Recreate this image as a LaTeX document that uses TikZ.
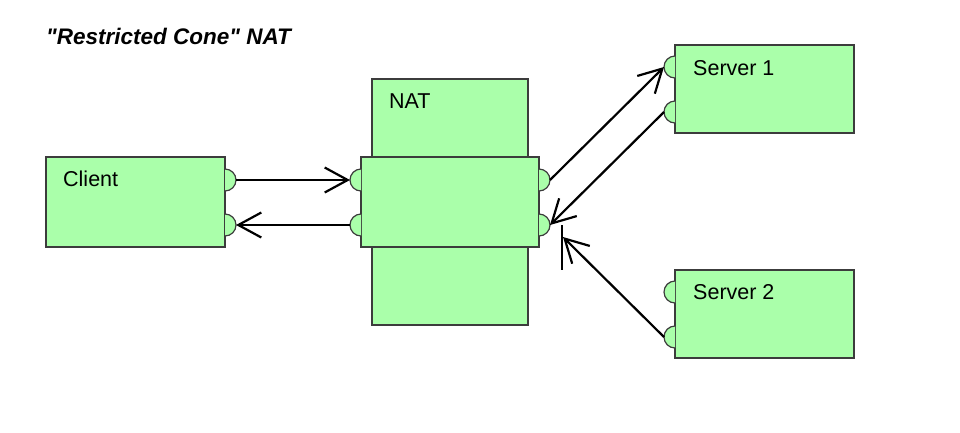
\documentclass[tikz,border=0pt]{standalone}
\usepackage{fontspec}
\setmainfont{Liberation Sans}
\newfontfamily\titlefont{Liberation Sans}
\usetikzlibrary{arrows.meta}
\definecolor{boxgreen}{RGB}{170,255,170}
\definecolor{edge}{RGB}{60,60,60}
\tikzset{
  blk/.style={draw=edge, line width=1.2pt, fill=boxgreen},
  lbl/.style={anchor=base west, inner sep=0pt, font=\fontsize{21.5}{25}\selectfont},
  conn/.style={line width=2.2pt, -{Straight Barb[length=23pt,width=25pt,line width=2.2pt]}},
}
\newcommand{\portR}[1]{\fill[boxgreen] (#1) ++(0,-11) arc[start angle=-90,end angle=90,radius=11] -- cycle;
  \draw[edge, line width=1.2pt] (#1) ++(0,-11) arc[start angle=-90,end angle=90,radius=11];}
\newcommand{\portL}[1]{\fill[boxgreen] (#1) ++(0,-11) arc[start angle=270,end angle=90,radius=11] -- cycle;
  \draw[edge, line width=1.2pt] (#1) ++(0,-11) arc[start angle=270,end angle=90,radius=11];}
\begin{document}
\begin{tikzpicture}[x=1pt,y=-1pt]
\useasboundingbox (0,0) rectangle (960,432);
\node[anchor=base west, inner sep=0pt, font=\titlefont\fontsize{22.5}{26}\selectfont\bfseries\itshape] (title) at (46,44) {"Restricted Cone" NAT};
% boxes
\draw[blk] (46,157) rectangle (225,247);
\node[lbl] (client) at (63,186) {Client};
\draw[blk] (372,79) rectangle (528,325);
\draw[blk] (361,157) rectangle (539,247);
\node[lbl] (nat) at (389,108) {NAT};
\draw[blk] (675,45) rectangle (854,133);
\node[lbl] (s1) at (693,75) {Server 1};
\draw[blk] (675,270) rectangle (854,358);
\node[lbl] (s2) at (693,299) {Server 2};
% ports
\coordinate (cA) at (225,180); \coordinate (cB) at (225,225);
\coordinate (nLA) at (361,180); \coordinate (nLB) at (361,225);
\coordinate (nRA) at (539,180); \coordinate (nRB) at (539,225);
\coordinate (s1A) at (675,67); \coordinate (s1B) at (675,112);
\coordinate (s2A) at (675,292); \coordinate (s2B) at (675,337);
\portR{cA} \portR{cB} \portL{nLA} \portL{nLB} \portR{nRA} \portR{nRB}
\portL{s1A} \portL{s1B} \portL{s2A} \portL{s2B}
% connection end points
\coordinate (cAo) at (236,180); \coordinate (cBo) at (236,225);
\coordinate (nLAo) at (350,180); \coordinate (nLBo) at (350,225);
\coordinate (nRAo) at (550,180); \coordinate (nRBo) at (550,225);
\coordinate (s1Ao) at (664,67); \coordinate (s1Bo) at (664,112);
\coordinate (s2Bo) at (664,337);
\coordinate (blk) at (563,237);
\draw[conn] (cAo) -- (nLAo);
\draw[conn] (nLBo) -- (cBo);
\draw[conn] (nRAo) -- (s1Ao);
\draw[conn] (s1Bo) -- (nRBo);
\draw[conn] (s2Bo) -- (blk);
\coordinate (barT) at (562,225); \coordinate (barB) at (562,270);
\draw[line width=2.2pt] (barT) -- (barB);
\end{tikzpicture}
\end{document}
